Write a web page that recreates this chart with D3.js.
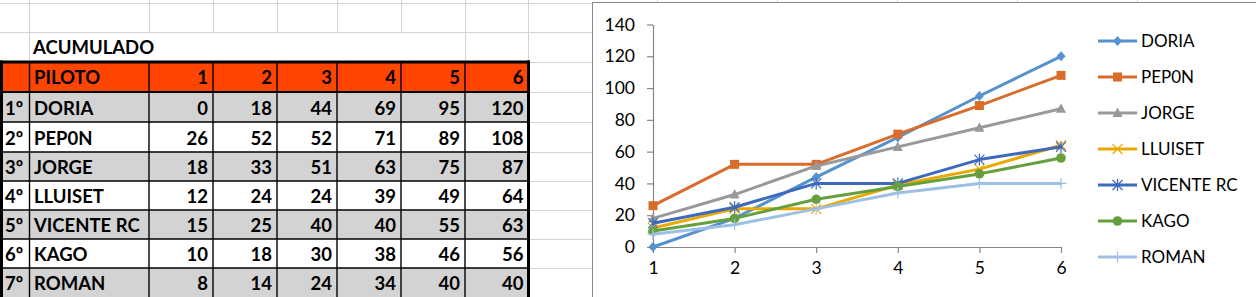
<!DOCTYPE html>
<html><head><meta charset="utf-8">
<script src="https://cdn.jsdelivr.net/npm/d3@7"></script>
<style>
html,body{margin:0;padding:0;background:#fff;}
svg{display:block;}
</style></head>
<body>
<svg id="c" width="1256" height="297"></svg>
<script>
// ---------- DATA ----------
const title = "ACUMULADO";
const headerLabel = "PILOTO";
const races = [1, 2, 3, 4, 5, 6];
const positions = ["1º", "2º", "3º", "4º", "5º", "6º", "7º"];
const pilots = ["DORIA", "PEP0N", "JORGE", "LLUISET", "VICENTE RC", "KAGO", "ROMAN"];
const doria   = [0, 18, 44, 69, 95, 120];
const pepon   = [26, 52, 52, 71, 89, 108];
const jorge   = [18, 33, 51, 63, 75, 87];
const lluiset = [12, 24, 24, 39, 49, 64];
const vicente = [15, 25, 40, 40, 55, 63];
const kago    = [10, 18, 30, 38, 46, 56];
const roman   = [8, 14, 24, 34, 40, 40];
const yTicks = [0, 20, 40, 60, 80, 100, 120, 140];

const seriesValues = [doria, pepon, jorge, lluiset, vicente, kago, roman];
const colors = ["#5592CE", "#D86C2A", "#999999", "#EBA800", "#3E6ABD", "#66A03E", "#9DC0E5"];
const markers = ["diamond", "square", "triangle", "x", "star", "circle", "plus"];

const svg = d3.select("#c");
const FONT = "Lato, 'Open Sans', sans-serif";

// ---------- SPREADSHEET GRID ----------
const colEdges = [0, 29.5, 149, 213, 277, 337, 401, 465, 528.5];
const rowEdges = [3, 32, 61.5, 92, 122, 152, 181, 210, 239, 268, 297];
const grid = svg.append("g").attr("stroke", "#d4d4d4").attr("stroke-width", 1).attr("shape-rendering", "crispEdges");
[3, 32].forEach(y => grid.append("line").attr("x1", 0).attr("x2", 592).attr("y1", y + 0.5).attr("y2", y + 0.5));
rowEdges.slice(2).forEach(y => grid.append("line").attr("x1", 528).attr("x2", 592).attr("y1", y + 0.5).attr("y2", y + 0.5));
colEdges.slice(1).forEach(x => grid.append("line").attr("x1", x).attr("x2", x).attr("y1", 0).attr("y2", 32));
[29.5, 465, 528.5].forEach(x => grid.append("line").attr("x1", x).attr("x2", x).attr("y1", 32).attr("y2", 61));
[657, 777, 897, 1017, 1137].forEach(x => grid.append("line").attr("x1", x + 0.5).attr("x2", x + 0.5).attr("y1", 0).attr("y2", 3));

svg.append("text").attr("x", 33).attr("y", 54).attr("font-family", FONT).attr("font-weight", "bold")
  .attr("font-size", 18.5).attr("fill", "#000").text(title);

// ---------- TABLE ----------
const tbl = svg.append("g");
const tableTop = 62, headerBottom = 92;
const dataRowEdges = rowEdges.slice(3);
tbl.append("rect").attr("x", 0).attr("y", tableTop).attr("width", 528.5).attr("height", headerBottom - tableTop).attr("fill", "#FF4500");
pilots.forEach((p, i) => {
  tbl.append("rect").attr("x", 0).attr("y", dataRowEdges[i]).attr("width", 528.5)
    .attr("height", dataRowEdges[i + 1] - dataRowEdges[i])
    .attr("fill", i % 2 === 0 ? "#D3D3D3" : "#FFFFFF");
});
const lines = tbl.append("g").attr("stroke", "#000").attr("stroke-width", 1.4);
colEdges.slice(1, -1).forEach(x => lines.append("line").attr("x1", x).attr("x2", x).attr("y1", tableTop).attr("y2", 297));
dataRowEdges.slice(0, -1).forEach((y, i) => lines.append("line").attr("x1", 0).attr("x2", 528.5).attr("y1", y).attr("y2", y)
  .attr("stroke-width", i === 0 ? 2.2 : 1.4));
const ob = tbl.append("g").attr("stroke", "#000").attr("stroke-width", 3).attr("fill", "none");
ob.append("line").attr("x1", 0).attr("x2", 530).attr("y1", 62).attr("y2", 62);
ob.append("line").attr("x1", 1.5).attr("x2", 1.5).attr("y1", 60.5).attr("y2", 297);
ob.append("line").attr("x1", 528.5).attr("x2", 528.5).attr("y1", 60.5).attr("y2", 297);

const cellText = (x, y, t, anchor) => tbl.append("text").attr("x", x).attr("y", y).attr("text-anchor", anchor || "start")
  .attr("font-family", FONT).attr("font-weight", "bold").attr("font-size", 18.5).attr("fill", "#000").text(t);
cellText(34, 84, headerLabel);
races.forEach((r, j) => cellText(colEdges[j + 3] - 5, 84, r, "end"));
pilots.forEach((p, i) => {
  const yb = dataRowEdges[i + 1] - 7;
  cellText(5, yb, positions[i]);
  cellText(34, yb, p);
  seriesValues[i].forEach((v, j) => cellText(colEdges[j + 3] - 5, yb, v, "end"));
});

// ---------- CHART ----------
const ch = svg.append("g");
ch.append("rect").attr("x", 592.5).attr("y", 2.5).attr("width", 700).attr("height", 300)
  .attr("fill", "#fff").attr("stroke", "#8a8a8a").attr("stroke-width", 1);

const x = d3.scalePoint().domain(races).range([653, 1061]);
const y = d3.scaleLinear().domain([0, 140]).range([247, 24.5]);

const yAxis = ch.append("g").attr("transform", "translate(653,0)")
  .call(d3.axisLeft(y).tickValues(yTicks).tickSize(6).tickSizeOuter(0).tickPadding(12));
const xAxis = ch.append("g").attr("transform", "translate(0,247)")
  .call(d3.axisBottom(x).tickSize(6).tickSizeOuter(0).tickPadding(9));
[yAxis, xAxis].forEach(a => {
  a.selectAll("path,line").attr("stroke", "#868686").attr("stroke-width", 1.2);
  a.selectAll("text").attr("font-family", FONT).attr("font-size", 17.5).attr("fill", "#000");
});

function drawMarker(g, type, cx, cy, color) {
  const m = g.append("g").attr("transform", `translate(${cx},${cy})`);
  if (type === "diamond") m.append("path").attr("d", "M0,-5L4.5,0L0,5L-4.5,0Z").attr("fill", color);
  else if (type === "square") m.append("rect").attr("x", -4.5).attr("y", -4.5).attr("width", 9).attr("height", 9).attr("fill", color);
  else if (type === "triangle") m.append("path").attr("d", "M0,-5.5L5,4L-5,4Z").attr("fill", color);
  else if (type === "circle") m.append("circle").attr("r", 4.8).attr("fill", color);
  else if (type === "x") m.append("path").attr("d", "M-5,-5L5,5M-5,5L5,-5").attr("stroke", color).attr("stroke-width", 1.2);
  else if (type === "star") m.append("path").attr("d", "M-5,-5L5,5M-5,5L5,-5M0,-6V6").attr("stroke", color).attr("stroke-width", 1.2);
  else if (type === "plus") m.append("path").attr("d", "M-5.5,0H5.5M0,-5.5V5.5").attr("stroke", color).attr("stroke-width", 1.2);
}

const line = d3.line().x((d, i) => x(races[i])).y(d => y(d));
seriesValues.forEach((vals, s) => {
  const g = ch.append("g");
  g.append("path").attr("d", line(vals)).attr("fill", "none").attr("stroke", colors[s])
    .attr("stroke-width", 3).attr("stroke-linejoin", "round").attr("stroke-linecap", "round");
  vals.forEach((v, i) => drawMarker(g, markers[s], x(races[i]), y(v), colors[s]));
});

const legY = d3.scalePoint().domain(pilots).range([41, 257]);
pilots.forEach((p, s) => {
  const ly = legY(p);
  const g = ch.append("g");
  g.append("line").attr("x1", 1098).attr("x2", 1137).attr("y1", ly).attr("y2", ly)
    .attr("stroke", colors[s]).attr("stroke-width", 3);
  drawMarker(g, markers[s], 1117.5, ly, colors[s]);
  g.append("text").attr("x", 1141).attr("y", ly + 6).attr("font-family", FONT).attr("font-size", 17)
    .attr("fill", "#000").text(p);
});
</script>
</body></html>
